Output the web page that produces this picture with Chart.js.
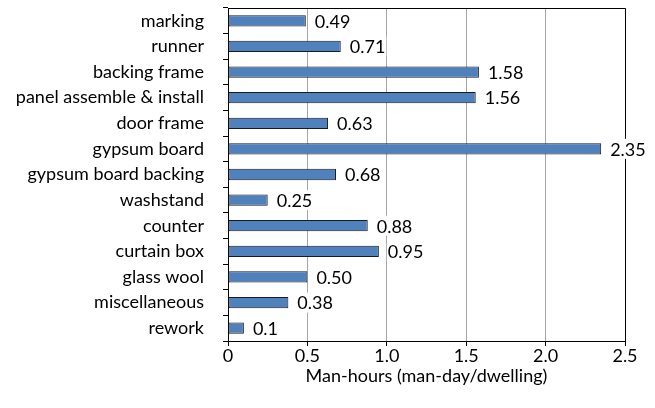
<!DOCTYPE html>
<html>
<head>
<meta charset="utf-8">
<script src="https://cdn.jsdelivr.net/npm/chart.js@4/dist/chart.umd.min.js"></script>
<style>
  html, body { margin: 0; padding: 0; background: #fff; }
  #wrap { width: 655px; height: 408px; }
</style>
</head>
<body>
<div id="wrap"><canvas id="chart" width="655" height="408"></canvas></div>
<script>
const categories = ['marking', 'runner', 'backing frame', 'panel assemble & install', 'door frame',
    'gypsum board', 'gypsum board backing', 'washstand', 'counter', 'curtain box',
    'glass wool', 'miscellaneous', 'rework'];
const manHours = [0.49, 0.71, 1.58, 1.56, 0.63, 2.35, 0.68, 0.25, 0.88, 0.95, 0.50, 0.38, 0.1];
const valueLabels = ['0.49', '0.71', '1.58', '1.56', '0.63', '2.35', '0.68', '0.25', '0.88', '0.95', '0.50', '0.38', '0.1'];
const xTicks = [0, 0.5, 1, 1.5, 2, 2.5];

const FONT = 'Lato, "Open Sans", sans-serif';
const FSIZE = 18;

// value labels right of each bar, plus the box around the plot area
const extras = {
    id: 'extras',
    afterDatasetsDraw(chart) {
        const ctx = chart.ctx;
        const area = chart.chartArea;
        ctx.save();
        ctx.strokeStyle = '#000';
        ctx.lineWidth = 1;
        ctx.beginPath();
        ctx.moveTo(area.left, area.top + 0.5);
        ctx.lineTo(area.right + 0.5, area.top + 0.5);
        ctx.lineTo(area.right + 0.5, area.bottom);
        ctx.stroke();

        ctx.font = FSIZE + 'px ' + FONT;
        ctx.textBaseline = 'middle';
        ctx.textAlign = 'left';
        chart.getDatasetMeta(0).data.forEach((bar, i) => {
            const txt = valueLabels[i];
            const x = bar.x + 9;
            const w = ctx.measureText(txt).width;
            ctx.fillStyle = '#fff';
            ctx.fillRect(x - 1, bar.y - 10, w + 2, 20);
            ctx.fillStyle = '#000';
            ctx.fillText(txt, x, bar.y + 1);
        });
        ctx.restore();
    }
};

new Chart(document.getElementById('chart').getContext('2d'), {
    type: 'bar',
    data: {
        labels: categories,
        datasets: [{
            data: manHours,
            backgroundColor: '#4F81BD',
            borderColor: '#1a1a1a',
            borderWidth: 1,
            borderSkipped: false,
            categoryPercentage: 1,
            barPercentage: 0.44
        }]
    },
    options: {
        indexAxis: 'y',
        responsive: false,
        animation: false,
        layout: { padding: { top: 8, right: 30, left: 0, bottom: 0 } },
        plugins: {
            legend: { display: false },
            tooltip: { enabled: false }
        },
        scales: {
            x: {
                min: 0,
                max: 2.5,
                afterBuildTicks: axis => { axis.ticks = xTicks.map(v => ({ value: v })); },
                afterFit: axis => { axis.height = 67; },
                grid: { color: '#A6A6A6', tickColor: '#000', tickLength: 5, lineWidth: 1 },
                border: { color: '#000', width: 1 },
                ticks: { color: '#000', font: { family: FONT, size: FSIZE }, padding: -1, maxRotation: 0 },
                title: {
                    display: true,
                    text: 'Man-hours (man-day/dwelling)',
                    color: '#000',
                    font: { family: FONT, size: FSIZE },
                    padding: { top: 2, bottom: 21 }
                }
            },
            y: {
                afterFit: axis => {
                    axis.width = 228;
                    axis.paddingTop = 0;
                    axis.paddingBottom = 0;
                },
                grid: { offset: true, drawOnChartArea: false, tickColor: '#000', tickLength: 5 },
                border: { color: '#000', width: 1 },
                ticks: { color: '#000', font: { family: FONT, size: FSIZE }, padding: 19, autoSkip: false }
            }
        }
    },
    plugins: [extras]
});
</script>
</body>
</html>
